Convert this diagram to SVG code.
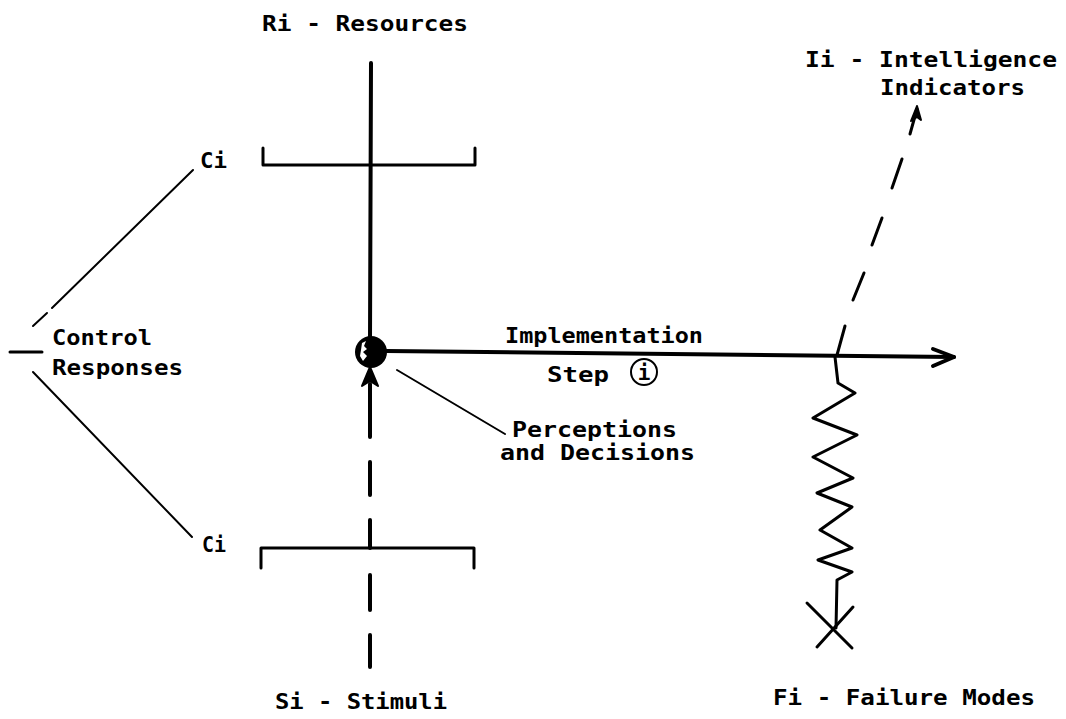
<svg xmlns="http://www.w3.org/2000/svg" width="1066" height="719" viewBox="0 0 1066 719">
<style>
text{font-family:"DejaVu Sans Mono","Liberation Mono",monospace;font-weight:bold;font-size:21px;fill:#000}
.thick{stroke:#000;stroke-width:4;fill:none;stroke-linecap:round;stroke-linejoin:round}
.mid{stroke:#000;stroke-width:3;fill:none;stroke-linecap:round;stroke-linejoin:round}
.thin{stroke:#000;stroke-width:2;fill:none;stroke-linecap:round}
</style>
<rect width="1066" height="719" fill="#fff"/>
<g id="connectors">
  <!-- resources vertical line -->
  <line class="thick" x1="371" y1="63" x2="370" y2="340"/>
  <!-- stimuli line: solid part then dashes -->
  <line class="thick" x1="370" y1="384" x2="370" y2="437"/>
  <line class="thick" x1="370" y1="462" x2="370" y2="495"/>
  <line class="thick" x1="370" y1="520" x2="370" y2="548"/>
  <line class="thick" x1="370" y1="575" x2="370" y2="610"/>
  <line class="thick" x1="370" y1="635" x2="370" y2="667"/>
  <path d="M370,367 L362,386 L370,381 L378,386 Z" fill="#000" stroke="#000" stroke-width="2" stroke-linejoin="round"/>
  <!-- upper bracket -->
  <path class="mid" d="M263,148 L263,165 L475,165 L475,148"/>
  <!-- lower bracket -->
  <path class="mid" d="M261,568 L261,548 L474,548 L474,568"/>
  <!-- implementation arrow -->
  <line class="thick" x1="386" y1="351" x2="954" y2="357"/>
  <path class="thick" d="M933,349 L954,357 L933,366"/>
  <!-- control response lines -->
  <line class="thin" x1="193" y1="170" x2="52" y2="308"/>
  <line class="thin" x1="47" y1="313" x2="33" y2="326"/>
  <line class="mid" x1="10" y1="352" x2="42" y2="352"/>
  <line class="thin" x1="33" y1="372" x2="192" y2="537"/>
  <!-- perceptions leader -->
  <line class="thin" x1="397" y1="370" x2="505" y2="434"/>
  <!-- intelligence indicator dashed arrow -->
  <line class="mid" x1="837" y1="355" x2="845" y2="326"/>
  <line class="mid" x1="853" y1="300" x2="864" y2="273"/>
  <line class="mid" x1="872" y1="245" x2="882" y2="218"/>
  <line class="mid" x1="892" y1="188" x2="902" y2="159"/>
  <line class="mid" x1="910" y1="134" x2="917" y2="109"/>
  <path d="M917,106 L911,121 L917,117 L921,120 Z" fill="#000" stroke="#000" stroke-width="2" stroke-linejoin="round"/>
  <!-- failure modes zigzag -->
  <polyline class="mid" points="835,357 838,383 855,393 813,418 857,435 813,457 853,478 817,493 852,507 820,530 852,548 818,560 852,572 837,580 836,628"/>
  <line class="mid" x1="807" y1="603" x2="852" y2="648"/>
  <line class="mid" x1="853" y1="607" x2="817" y2="647"/>
</g>
<g id="node-decision">
  <circle cx="371" cy="352" r="16" fill="#000"/>
  <path d="M362,343 L366,341 L364,346 L367,349 L363,352 L367,356 L363,361 L360,356 L361,350 Z" fill="#fff"/>
</g>
<g id="node-resources"><text x="262" y="31" textLength="206" lengthAdjust="spacingAndGlyphs">Ri - Resources</text></g>
<g id="node-ci-upper"><text x="200" y="168" textLength="27" lengthAdjust="spacingAndGlyphs">Ci</text></g>
<g id="node-ci-lower"><text x="202" y="552" textLength="24" lengthAdjust="spacingAndGlyphs">Ci</text></g>
<g id="node-control">
  <text x="52" y="345" textLength="100" lengthAdjust="spacingAndGlyphs">Control</text>
  <text x="52" y="375" textLength="131" lengthAdjust="spacingAndGlyphs">Responses</text>
</g>
<g id="node-implementation">
  <text x="505" y="343" textLength="198" lengthAdjust="spacingAndGlyphs">Implementation</text>
  <text x="547" y="382" textLength="62" lengthAdjust="spacingAndGlyphs">Step</text>
  <circle cx="644" cy="372" r="13" fill="none" stroke="#000" stroke-width="2"/>
  <text x="644" y="380" text-anchor="middle">i</text>
</g>
<g id="node-perceptions">
  <text x="512" y="437" textLength="165" lengthAdjust="spacingAndGlyphs">Perceptions</text>
  <text x="500" y="460" textLength="195" lengthAdjust="spacingAndGlyphs">and Decisions</text>
</g>
<g id="node-intelligence">
  <text x="805" y="67" textLength="252" lengthAdjust="spacingAndGlyphs">Ii - Intelligence</text>
  <text x="880" y="95" textLength="145" lengthAdjust="spacingAndGlyphs">Indicators</text>
</g>
<g id="node-stimuli"><text x="275" y="709" textLength="172" lengthAdjust="spacingAndGlyphs">Si - Stimuli</text></g>
<g id="node-failure"><text x="773" y="705" textLength="262" lengthAdjust="spacingAndGlyphs">Fi - Failure Modes</text></g>
</svg>
